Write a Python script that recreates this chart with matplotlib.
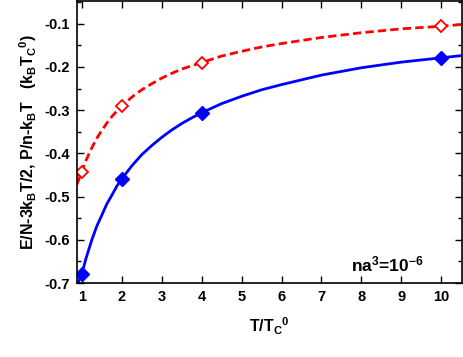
import matplotlib
matplotlib.use("Agg")
import matplotlib.pyplot as plt
from matplotlib.ticker import MultipleLocator

plt.rcParams['font.family'] = ['Liberation Sans', 'DejaVu Sans']
plt.rcParams['font.weight'] = 'bold'
plt.rcParams['mathtext.fontset'] = 'custom'
plt.rcParams['mathtext.rm'] = 'Liberation Sans:bold'
plt.rcParams['mathtext.it'] = 'Liberation Sans:bold'
plt.rcParams['mathtext.bf'] = 'Liberation Sans:bold'
plt.rcParams['mathtext.default'] = 'bf'

# data points
T_pts = [1, 2, 4, 10]
E_pts = [-0.442, -0.291, -0.190, -0.106]   # red open diamonds
P_pts = [-0.679, -0.459, -0.306, -0.179]   # blue filled diamonds

# fitted curves
T_red = [0.875, 1, 1.1, 1.25, 1.375, 1.5, 1.625, 1.75, 1.875, 2, 2.25, 2.5, 2.75,
         3, 3.25, 3.5, 4, 4.5, 5, 5.5, 6, 7, 8, 9, 10, 10.5]
E_curve = [-0.472, -0.442, -0.417, -0.387, -0.365, -0.347, -0.330, -0.315, -0.302,
           -0.291, -0.270, -0.253, -0.239, -0.226, -0.215, -0.205, -0.190, -0.175,
           -0.164, -0.154, -0.146, -0.132, -0.121, -0.112, -0.106, -0.102]
T_blue = [0.885, 0.95, 1, 1.1, 1.25, 1.375, 1.5, 1.625, 1.75, 1.875, 2, 2.25, 2.5,
          2.75, 3, 3.25, 3.5, 3.75, 4, 4.5, 5, 5.5, 6, 7, 8, 9, 10, 10.5]
P_curve = [-0.703, -0.69, -0.679, -0.644, -0.600, -0.568, -0.543, -0.517, -0.497,
           -0.476, -0.459, -0.429, -0.403, -0.382, -0.363, -0.346, -0.331, -0.318,
           -0.306, -0.285, -0.268, -0.253, -0.241, -0.219, -0.202, -0.189, -0.179, -0.174]

xticks = [1, 2, 3, 4, 5, 6, 7, 8, 9, 10]
yticks = [-0.7, -0.6, -0.5, -0.4, -0.3, -0.2, -0.1]

fig = plt.figure(figsize=(4.63, 3.57), dpi=100)
ax = fig.add_axes([0.166, 0.207, 0.832, 0.791])

ax.plot(T_red, E_curve, color='#ff0000', lw=2.0, ls=(0, (3.0, 1.5)))
ax.plot(T_blue, P_curve, color='#0000ff', lw=2.0, ls='-')
ax.plot(T_pts, E_pts, ls='none', marker='D', ms=6.5, mfc='white', mec='#ff0000', mew=1.3)
ax.plot(T_pts, P_pts, ls='none', marker='D', ms=7, mfc='#0000ff', mec='#0000ff')

ax.set_xlim(0.875, 10.52)
ax.set_ylim(-0.7, -0.047)
ax.set_xticks(xticks)
ax.set_yticks(yticks)
ax.set_xticklabels([str(v) for v in xticks])
ax.set_yticklabels([f"{v:.1f}" for v in yticks])
ax.yaxis.set_minor_locator(MultipleLocator(0.05))
ax.tick_params(which='both', direction='in', top=True, right=True, labelsize=10.5, width=1.0)
ax.tick_params(which='major', length=5, pad=5)
ax.tick_params(which='minor', length=3)
for s in ax.spines.values():
    s.set_linewidth(1.2)

ax.set_xlabel(r'T/T$_C$$^0$', fontsize=11.5, fontweight='bold', labelpad=8)
ax.set_ylabel(r'E/N-3k$_B$T/2, P/n-k$_B$T   (k$_B$T$_C$$^0$)', fontsize=11.5, fontweight='bold', labelpad=4)

ax.text(7.75, -0.672, r'na$^3$=10$^{-6}$', fontsize=12.5, fontweight='bold', ha='left', va='baseline')

fig.savefig('out.png', dpi=100)
